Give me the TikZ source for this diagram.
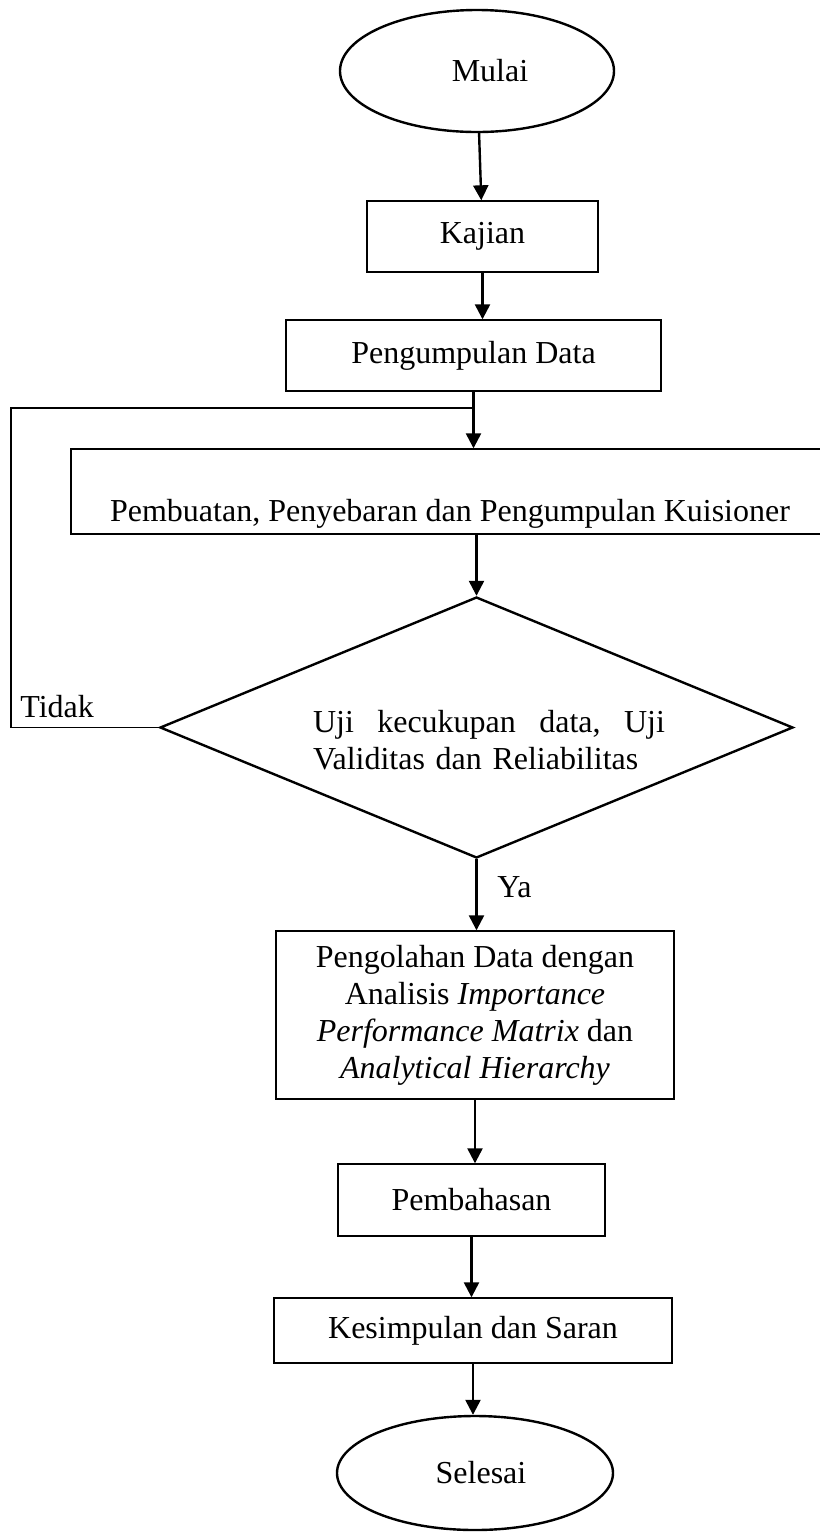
\documentclass[tikz,border=0pt]{standalone}
\usepackage{fontspec}
\setmainfont{Liberation Serif}
\usepackage{tikz}
\usetikzlibrary{arrows.meta, shapes.geometric}
\tikzset{
  proc/.style={
    draw,
    rectangle,
    line width=0.7pt,
    inner sep=0pt,
    align=center
  },
  term/.style={
    draw,
    ellipse,
    line width=1.2pt,
    inner sep=0pt
  },
  dec/.style={
    draw,
    diamond,
    line width=1.2pt,
    inner sep=0pt,
    aspect=2.43
  },
  arr/.style={
    -{Triangle[length=7.5pt, width=7.5pt]},
    line width=1.2pt
  },
  loopline/.style={
    line width=0.7pt
  },
  lbl/.style={
    inner sep=0pt
  }
}

\begin{document}
\begin{tikzpicture}[x=0.5pt, y=-0.5pt, font=\fontsize{16}{18.5}\selectfont]
    % ukuran gambar 820 x 1533 piksel, 1 piksel = 0.5pt
    \useasboundingbox (0,0) rectangle (820,1533);

    % terminal dan proses
    \node[term, minimum width=137pt, minimum height=61pt] (mulai) at (477,71) {\hspace*{13pt}Mulai};
    \node[proc, minimum width=115.5pt, minimum height=35.5pt] (kajian) at (482.5,236.5) {Kajian};
    \node[proc, minimum width=187.5pt, minimum height=35.5pt] (data) at (473.5,355.5) {Pengumpulan Data};
    \node[proc, minimum width=379pt, text height=36pt, text depth=6.5pt] (kuis) at (450,491.5)
      {Pembuatan, Penyebaran dan Pengumpulan Kuisioner};

    % keputusan
    \node[dec, minimum width=316.5pt, minimum height=130.5pt] (uji) at (476.5,727.5) {};
    \node[lbl, text width=176pt, align=left] (ujitxt) at (489,740)
      {Uji\hfill kecukupan\hfill data,\hfill Uji\\Validitas dan Reliabilitas};

    \node[proc, minimum width=199pt, minimum height=84pt] (olah) at (475,1015)
      {Pengolahan Data dengan\\Analisis \textit{Importance}\\\textit{Performance Matrix} dan\\\textit{Analytical Hierarchy}};
    \node[proc, minimum width=133.5pt, minimum height=36pt] (bahas) at (471.5,1200) {Pembahasan};
    \node[proc, minimum width=199pt, minimum height=32.5pt] (simpul) at (473,1330.5) {Kesimpulan dan Saran};
    \node[term, minimum width=138pt, minimum height=57pt] (selesai) at (475,1473) {\hspace*{6pt}Selesai};

    % label cabang
    \node[lbl, anchor=base west] (tidak) at (20,717) {Tidak};
    \node[lbl, anchor=base west] (ya) at (497,897) {Ya};

    % panah alur
    \draw[arr] (mulai) -- (kajian);
    \draw[arr] (kajian.south) -- (kajian.south |- data.north);
    \draw[arr] (data.south) -- (data.south |- kuis.north);
    \draw[arr] (kuis.south -| uji.north) -- (uji.north);
    \draw[arr] (uji.south) -- (uji.south |- olah.north);
    \draw[arr] (olah.south) -- (olah.south |- bahas.north);
    \draw[arr] (bahas.south) -- (bahas.south |- simpul.north);
    \draw[arr] (simpul.south) -- (simpul.south |- selesai.north);

    % garis kembali (Tidak)
    \coordinate (balik) at (11,408);
    \draw[loopline] (uji.west) -| (balik) -- (balik -| data.south);

\end{tikzpicture}
\end{document}
